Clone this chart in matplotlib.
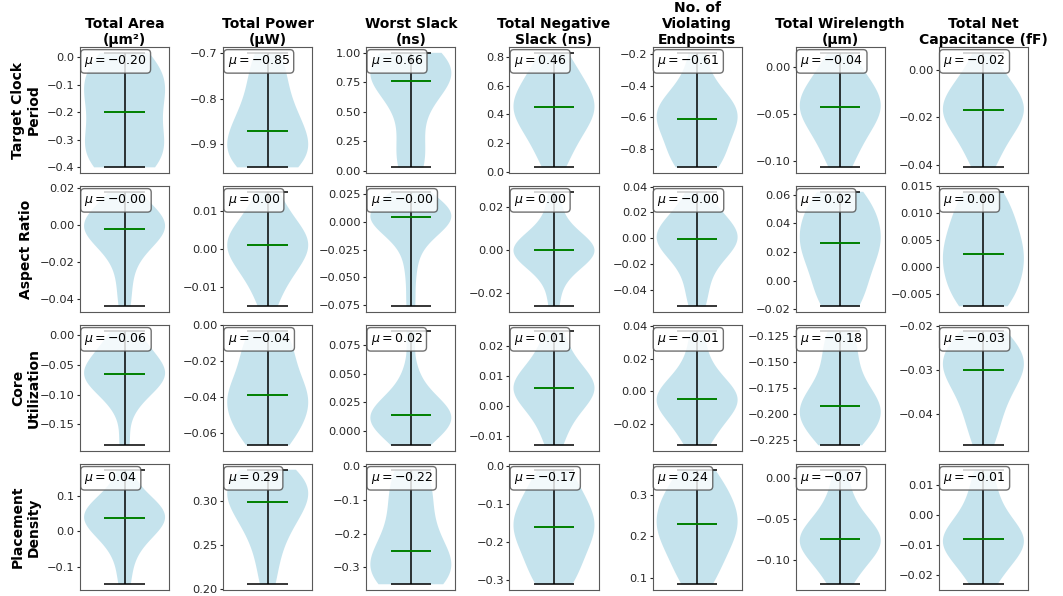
import matplotlib
matplotlib.use("Agg")
import matplotlib.pyplot as plt

metrics = ["Total Area\n(µm²)", "Total Power\n(µW)", "Worst Slack\n(ns)",
           "Total Negative\nSlack (ns)", "No. of\nViolating\nEndpoints",
           "Total Wirelength\n(µm)", "Total Net\nCapacitance (fF)"]
params = ["Target Clock\nPeriod", "Aspect Ratio", "Core\nUtilization", "Placement\nDensity"]

mu_values = [
    [-0.20, -0.85, 0.66, 0.46, -0.61, -0.04, -0.02],
    [-0.00, 0.00, -0.00, 0.00, -0.00, 0.02, 0.00],
    [-0.06, -0.04, 0.02, 0.01, -0.01, -0.18, -0.03],
    [0.04, 0.29, -0.22, -0.17, 0.24, -0.07, -0.01],
]

# Row 1: Target Clock Period
tcp_area = [-0.40, -0.39, -0.37, -0.34, -0.31, -0.28, -0.24, -0.20, -0.16, -0.13, -0.10, -0.08, -0.05, -0.02, 0.015]
tcp_power = [-0.95, -0.945, -0.935, -0.925, -0.915, -0.90, -0.885, -0.87, -0.855, -0.84, -0.82, -0.79, -0.76, -0.73, -0.70]
tcp_ws = [0.03, 0.06, 0.20, 0.38, 0.58, 0.68, 0.73, 0.76, 0.80, 0.84, 0.87, 0.90, 0.93, 0.96, 1.0]
tcp_tns = [0.03, 0.14, 0.22, 0.29, 0.34, 0.38, 0.42, 0.45, 0.48, 0.52, 0.56, 0.61, 0.67, 0.74, 0.83]
tcp_nve = [-0.92, -0.90, -0.86, -0.80, -0.74, -0.68, -0.64, -0.61, -0.58, -0.56, -0.53, -0.50, -0.45, -0.35, -0.19]
tcp_twl = [-0.107, -0.09, -0.078, -0.068, -0.060, -0.053, -0.048, -0.043, -0.038, -0.033, -0.027, -0.020, -0.012, -0.002, 0.015]
tcp_tnc = [-0.041, -0.035, -0.030, -0.026, -0.023, -0.021, -0.019, -0.017, -0.015, -0.013, -0.011, -0.008, -0.005, -0.001, 0.007]

# Row 2: Aspect Ratio
ar_area = [-0.044, -0.030, -0.018, -0.012, -0.008, -0.005, -0.003, -0.002, -0.001, 0.001, 0.003, 0.005, 0.008, 0.012, 0.018]
ar_power = [-0.015, -0.010, -0.007, -0.005, -0.003, -0.002, 0.000, 0.001, 0.002, 0.003, 0.004, 0.006, 0.008, 0.011, 0.015]
ar_ws = [-0.076, -0.045, -0.022, -0.010, -0.004, 0.000, 0.002, 0.004, 0.005, 0.006, 0.008, 0.010, 0.013, 0.018, 0.027]
ar_tns = [-0.026, -0.014, -0.008, -0.005, -0.003, -0.002, -0.001, 0.000, 0.001, 0.002, 0.003, 0.005, 0.009, 0.016, 0.027]
ar_nve = [-0.053, -0.040, -0.026, -0.016, -0.010, -0.006, -0.003, -0.001, 0.001, 0.004, 0.007, 0.011, 0.016, 0.024, 0.036]
ar_twl = [-0.018, -0.014, -0.006, 0.003, 0.011, 0.017, 0.022, 0.026, 0.030, 0.035, 0.040, 0.046, 0.052, 0.058, 0.062]
ar_tnc = [-0.0072, -0.0066, -0.005, -0.003, -0.0013, 0.000, 0.0012, 0.0025, 0.0038, 0.0052, 0.0068, 0.0085, 0.0105, 0.0128, 0.014]

# Row 3: Core Utilization
cu_area = [-0.185, -0.125, -0.100, -0.088, -0.080, -0.074, -0.070, -0.066, -0.060, -0.054, -0.046, -0.036, -0.024, -0.010, 0.007]
cu_power = [-0.067, -0.064, -0.058, -0.053, -0.049, -0.045, -0.042, -0.039, -0.036, -0.032, -0.026, -0.019, -0.013, -0.007, -0.003]
cu_ws = [-0.012, -0.006, -0.001, 0.003, 0.007, 0.010, 0.012, 0.014, 0.016, 0.019, 0.022, 0.027, 0.035, 0.052, 0.087]
cu_tns = [-0.013, -0.007, -0.003, 0.000, 0.002, 0.004, 0.005, 0.006, 0.007, 0.008, 0.010, 0.012, 0.015, 0.019, 0.025]
cu_nve = [-0.033, -0.026, -0.020, -0.015, -0.011, -0.008, -0.006, -0.005, -0.003, -0.001, 0.002, 0.006, 0.012, 0.022, 0.037]
cu_twl = [-0.230, -0.224, -0.216, -0.209, -0.203, -0.199, -0.195, -0.192, -0.188, -0.182, -0.172, -0.158, -0.144, -0.130, -0.120]
cu_tnc = [-0.047, -0.043, -0.040, -0.037, -0.035, -0.033, -0.031, -0.030, -0.029, -0.028, -0.027, -0.026, -0.024, -0.022, -0.021]

# Row 4: Placement Density
pd_area = [-0.150, -0.080, -0.035, -0.010, 0.005, 0.018, 0.028, 0.037, 0.045, 0.053, 0.062, 0.073, 0.088, 0.110, 0.175]
pd_power = [0.205, 0.232, 0.252, 0.266, 0.277, 0.285, 0.292, 0.298, 0.304, 0.310, 0.316, 0.321, 0.326, 0.331, 0.335]
pd_ws = [-0.350, -0.345, -0.333, -0.318, -0.303, -0.289, -0.272, -0.250, -0.225, -0.190, -0.150, -0.110, -0.070, -0.035, -0.010]
pd_tns = [-0.310, -0.295, -0.265, -0.235, -0.210, -0.190, -0.174, -0.160, -0.146, -0.131, -0.114, -0.094, -0.068, -0.035, -0.010]
pd_nve = [0.085, 0.110, 0.140, 0.165, 0.185, 0.202, 0.216, 0.230, 0.244, 0.259, 0.275, 0.292, 0.312, 0.337, 0.360]
pd_twl = [-0.130, -0.115, -0.103, -0.094, -0.087, -0.082, -0.078, -0.075, -0.071, -0.066, -0.059, -0.050, -0.038, -0.020, 0.010]
pd_tnc = [-0.023, -0.019, -0.016, -0.013, -0.011, -0.010, -0.009, -0.008, -0.007, -0.005, -0.003, 0.000, 0.004, 0.009, 0.015]

data = [
    [tcp_area, tcp_power, tcp_ws, tcp_tns, tcp_nve, tcp_twl, tcp_tnc],
    [ar_area, ar_power, ar_ws, ar_tns, ar_nve, ar_twl, ar_tnc],
    [cu_area, cu_power, cu_ws, cu_tns, cu_nve, cu_twl, cu_tnc],
    [pd_area, pd_power, pd_ws, pd_tns, pd_nve, pd_twl, pd_tnc],
]

fig, axes = plt.subplots(4, 7, figsize=(10.63, 5.96), dpi=100)
fig.subplots_adjust(left=0.0753, right=0.967, top=0.921, bottom=0.0101,
                    wspace=0.607, hspace=0.103)

for i in range(4):
    for j in range(7):
        ax = axes[i, j]
        parts = ax.violinplot([data[i][j]], showmeans=False, showmedians=True,
                              showextrema=True)
        for b in parts['bodies']:
            b.set_facecolor('lightblue')
            b.set_edgecolor('none')
            b.set_alpha(0.7)
        for key in ('cbars', 'cmins', 'cmaxes'):
            parts[key].set_color('black')
            parts[key].set_linewidth(1.1)
        parts['cmedians'].set_color('green')
        parts['cmedians'].set_linewidth(1.4)
        ax.set_xticks([])
        ax.tick_params(axis='y', labelsize=8.2, length=2.5, pad=1.5,
                       colors='0.15')
        for sp in ax.spines.values():
            sp.set_edgecolor('0.35')
        mu = mu_values[i][j]
        ax.text(0.05, 0.95, f"$\\mu = {mu:.2f}$", transform=ax.transAxes,
                fontsize=9, va='top', ha='left',
                bbox=dict(boxstyle='round', facecolor='white', alpha=0.8,
                          edgecolor='0.3'))
        if i == 0:
            ax.set_title(metrics[j], fontsize=10, fontweight='bold', pad=2,
                         linespacing=1.2)

for i in range(4):
    pos = axes[i, 0].get_position()
    fig.text(26 / 1063, (pos.y0 + pos.y1) / 2, params[i], rotation=90,
             ha='center', va='center', fontsize=10, fontweight='bold',
             multialignment='center', linespacing=1.15)

fig.savefig("out.png", dpi=100)
